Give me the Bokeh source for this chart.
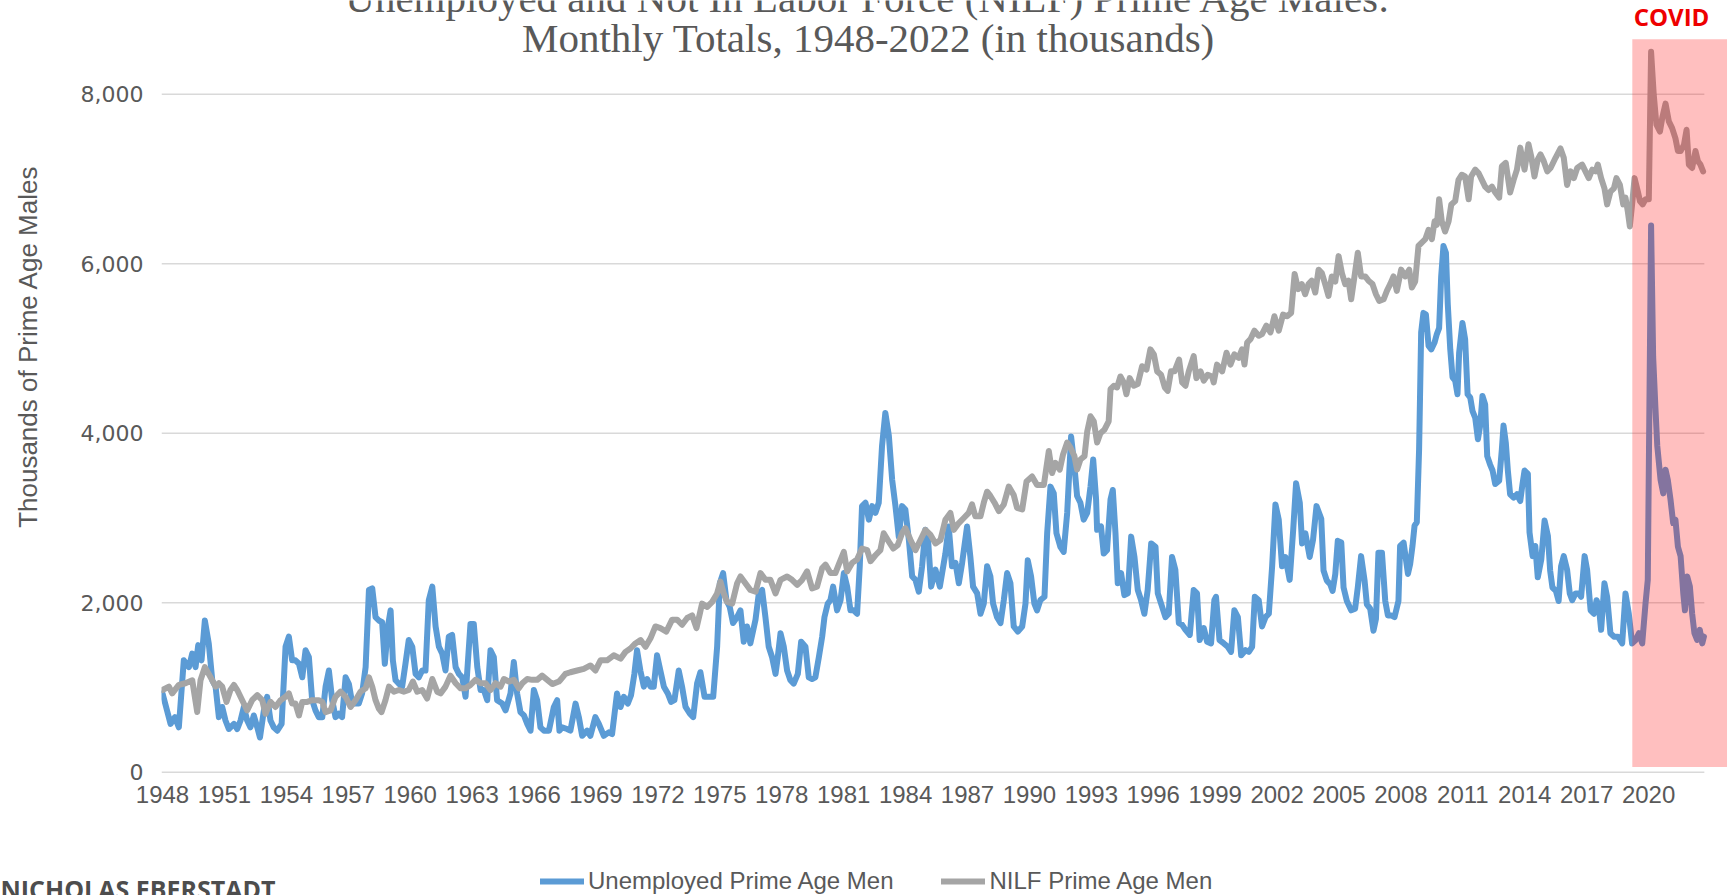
import math
from bokeh.plotting import figure
from bokeh.layouts import column, row
from bokeh.models import (Range1d, FixedTicker, NumeralTickFormatter, Label,
                          Legend, LegendItem)
from bokeh.embed import file_html
from bokeh.resources import INLINE

# ---------------- data (thousands) ----------------
unemp_year = [
    1948.00, 1948.39, 1948.60, 1948.79, 1949.03, 1949.28, 1949.44, 1949.60, 1949.73, 1949.89,
    1950.05, 1950.24, 1950.41, 1950.57, 1950.73, 1950.89, 1951.05, 1951.21, 1951.46, 1951.62,
    1951.78, 1951.94, 1952.10, 1952.26, 1952.42, 1952.59, 1952.72, 1952.91, 1953.07, 1953.23,
    1953.39, 1953.56, 1953.77, 1953.96, 1954.12, 1954.28, 1954.44, 1954.61, 1954.77, 1954.93,
    1955.09, 1955.25, 1955.41, 1955.57, 1955.74, 1955.90, 1956.06, 1956.22, 1956.38, 1956.54,
    1956.70, 1956.87, 1957.03, 1957.19, 1957.35, 1957.51, 1957.67, 1957.84, 1958.00, 1958.16,
    1958.32, 1958.48, 1958.64, 1958.77, 1958.92, 1959.05, 1959.16, 1959.29, 1959.45, 1959.61,
    1959.77, 1959.93, 1960.10, 1960.26, 1960.42, 1960.58, 1960.74, 1960.90, 1961.07, 1961.23,
    1961.39, 1961.55, 1961.71, 1961.87, 1962.03, 1962.20, 1962.36, 1962.52, 1962.68, 1962.92,
    1963.08, 1963.25, 1963.41, 1963.57, 1963.73, 1963.89, 1964.05, 1964.21, 1964.46, 1964.62,
    1964.86, 1965.02, 1965.18, 1965.34, 1965.51, 1965.67, 1965.83, 1965.99, 1966.15, 1966.31,
    1966.48, 1966.72, 1966.96, 1967.12, 1967.23,
    1967.36, 1967.60, 1967.76, 1968.01, 1968.17, 1968.33, 1968.57, 1968.73, 1968.97, 1969.14,
    1969.38, 1969.62, 1969.78, 1969.90, 1970.02, 1970.19, 1970.35, 1970.54, 1970.70, 1970.86,
    1970.99, 1971.15, 1971.32, 1971.48, 1971.64, 1971.80, 1971.96, 1972.12, 1972.29, 1972.48,
    1972.64, 1972.80, 1973.01, 1973.17, 1973.34, 1973.55, 1973.71, 1973.90, 1974.06, 1974.26,
    1974.47, 1974.68, 1974.87, 1975.00, 1975.16, 1975.32, 1975.48, 1975.64, 1975.84, 1976.00,
    1976.16, 1976.32, 1976.48, 1976.73, 1976.89, 1977.05, 1977.21, 1977.37, 1977.53, 1977.70,
    1977.81, 1977.94, 1978.10, 1978.26, 1978.42, 1978.58, 1978.78, 1978.94, 1979.15, 1979.31,
    1979.47, 1979.63, 1979.80, 1979.96, 1980.07, 1980.23, 1980.36, 1980.49, 1980.68, 1980.85,
    1981.01, 1981.17, 1981.33, 1981.49, 1981.65, 1981.78, 1981.89, 1982.06, 1982.22, 1982.38,
    1982.54, 1982.70, 1982.86, 1983.02, 1983.19, 1983.35, 1983.51, 1983.67, 1983.83, 1983.99,
    1984.16, 1984.32, 1984.48, 1984.64, 1984.80, 1984.96, 1985.08, 1985.24, 1985.45, 1985.66,
    1985.93, 1986.09, 1986.25, 1986.42, 1986.58, 1986.74, 1986.98, 1987.14, 1987.27, 1987.47,
    1987.63, 1987.79, 1987.95, 1988.11, 1988.24, 1988.43, 1988.60, 1988.76, 1988.92, 1989.08,
    1989.24, 1989.44, 1989.65, 1989.81, 1989.92, 1990.08, 1990.24, 1990.37, 1990.53, 1990.73,
    1990.86, 1991.02, 1991.18, 1991.31, 1991.50, 1991.66, 1991.83, 1992.02, 1992.18, 1992.31,
    1992.47, 1992.63, 1992.80, 1992.96, 1993.09, 1993.23, 1993.28, 1993.47, 1993.60, 1993.76,
    1993.93, 1994.04, 1994.17, 1994.28, 1994.44, 1994.60, 1994.77, 1994.93, 1995.09, 1995.25,
    1995.41, 1995.57, 1995.73, 1995.90, 1996.11, 1996.22, 1996.38, 1996.59, 1996.75, 1996.91,
    1997.07, 1997.24, 1997.40, 1997.56, 1997.77, 1997.96, 1998.12, 1998.25, 1998.45, 1998.61,
    1998.80, 1998.96, 1999.04, 1999.21, 1999.42, 1999.61, 1999.77, 1999.93, 2000.10, 2000.26,
    2000.47, 2000.63, 2000.79, 2000.92, 2001.11, 2001.27, 2001.44, 2001.60, 2001.76, 2001.92,
    2002.08, 2002.24, 2002.40, 2002.61, 2002.78, 2002.92, 2003.10, 2003.21, 2003.37, 2003.58,
    2003.74, 2003.91,
    2004.14, 2004.25, 2004.41, 2004.57, 2004.69, 2004.82, 2004.94, 2005.11, 2005.22, 2005.38,
    2005.59, 2005.78, 2005.91, 2006.07, 2006.24, 2006.35, 2006.51, 2006.67, 2006.79, 2006.91,
    2007.08, 2007.24, 2007.37, 2007.53, 2007.69, 2007.88, 2007.96, 2008.13, 2008.34, 2008.45,
    2008.56, 2008.66, 2008.77, 2008.88, 2008.98, 2009.09, 2009.21, 2009.34, 2009.47, 2009.63,
    2009.74, 2009.85, 2009.95, 2010.06, 2010.18, 2010.27, 2010.39, 2010.50, 2010.63, 2010.74,
    2010.82, 2010.98, 2011.11, 2011.23, 2011.36, 2011.47, 2011.60, 2011.73, 2011.84, 2011.95,
    2012.08, 2012.18, 2012.32, 2012.44, 2012.57, 2012.76, 2012.89, 2012.97, 2013.08, 2013.18,
    2013.29, 2013.46, 2013.62, 2013.78, 2013.89, 2013.99, 2014.15, 2014.23, 2014.38, 2014.51,
    2014.63, 2014.80, 2014.96, 2015.12, 2015.23, 2015.34, 2015.51, 2015.64,
    2015.76, 2015.89, 2016.05, 2016.18, 2016.30, 2016.46, 2016.62, 2016.73, 2016.90, 2017.02,
    2017.19, 2017.35, 2017.48, 2017.59, 2017.70, 2017.86, 2017.99, 2018.15, 2018.32, 2018.51,
    2018.72, 2018.88, 2019.04, 2019.20, 2019.37, 2019.53, 2019.69, 2019.85, 2019.96, 2020.12,
    2020.22, 2020.33, 2020.42, 2020.58, 2020.71, 2020.82, 2020.93, 2021.06, 2021.19, 2021.30,
    2021.42, 2021.55, 2021.68, 2021.76, 2021.87, 2022.00, 2022.11, 2022.22, 2022.35, 2022.48,
    2022.60, 2022.68,
]
unemp_value = [
    930, 570, 650, 530, 1320, 1240, 1400, 1240, 1500, 1320,
    1790, 1520, 1085, 1010, 650, 770, 610, 510, 570, 510,
    610, 770, 610, 530, 670, 530, 410, 730, 890, 610,
    530, 490, 570, 1480, 1600, 1320, 1320, 1280, 1120, 1440,
    1360, 850, 730, 650, 650, 1010, 1200, 850, 650, 690,
    650, 1120, 1040, 810, 810, 810, 930, 1240, 2150, 2170,
    1830, 1790, 1770, 1280, 1720, 1910, 1320, 1085, 1045, 1010,
    1280, 1560, 1480, 1160, 1120, 1200, 1200, 2030, 2190, 1720,
    1480, 1400, 1200, 1600, 1620, 1240, 1160, 1120, 890, 1750,
    1750, 1240, 970, 970, 850, 1440, 1360, 850, 810, 730,
    930, 1300, 930, 710, 670, 570, 490, 970, 850, 530,
    490, 490, 770, 850, 490,
    530, 510, 490, 810, 650, 430, 490, 430, 650, 570,
    430, 470, 450, 690, 930, 770, 890, 810, 910, 1160,
    1440, 1200, 1010, 1100, 1010, 1010, 1380, 1200, 1010, 930,
    830, 850, 1200, 1010, 770, 690, 650, 1050, 1180, 890,
    890, 890, 1480, 2230, 2350, 2030, 1950, 1760, 1830, 1910,
    1540, 1720, 1520, 1800, 2110, 2150, 1830, 1480, 1360, 1160,
    1360, 1640, 1480, 1200, 1085, 1045, 1160, 1540, 1480, 1120,
    1100, 1120, 1360, 1600, 1830, 1990, 2030, 2190, 1910, 2030,
    2350, 2190, 1910, 1910, 1870, 2430, 3140, 3180, 2980, 3140,
    3060, 3180, 3850, 4240, 3970, 3450, 3140, 2780, 3140, 3100,
    2740, 2310, 2270, 2130, 2430, 2860, 2780, 2190, 2390, 2190,
    2580, 2900, 2430, 2470, 2230, 2470, 2900, 2540, 2190, 2110,
    1870, 1990, 2430, 2310, 1990, 1830, 1760, 2030, 2350, 2230,
    1720, 1660, 1720, 1990, 2500, 2310, 1990, 1910, 2030, 2070,
    2820, 3370, 3290, 2820, 2660, 2600, 3060, 3960, 3610, 3260,
    3180, 2980, 3060, 3370, 3690, 3220, 2860, 2900, 2580, 2620,
    3220, 3330, 2820, 2230, 2350, 2090, 2110, 2780, 2540, 2150,
    2030, 1870, 2150, 2700, 2660, 2110, 1990, 1830, 1870, 2540,
    2390, 1760, 1740, 1680, 1620, 2150, 2110, 1560, 1700, 1540,
    1520, 2030, 2070, 1560, 1520, 1480, 1420, 1910, 1830, 1380,
    1440, 1420, 1480, 2070, 2030, 1720, 1830, 1870, 2430, 3160,
    2980, 2430, 2540, 2270, 2860, 3410, 3180, 2700, 2820, 2540,
    2740, 3140,
    2990, 2380, 2260, 2220, 2140, 2340, 2730, 2710, 2180, 2020,
    1910, 1930, 2180, 2550, 2260, 1980, 1930, 1670, 1810, 2590,
    2590, 2020, 1850, 1850, 1830, 2020, 2670, 2710, 2340, 2460,
    2670, 2910, 2950, 3810, 5190, 5420, 5400, 5030, 4990, 5070,
    5170, 5240, 5850, 6210, 6130, 5520, 4990, 4660, 4620, 4460,
    4950, 5300, 5110, 4460, 4420, 4260, 4180, 3930, 4090, 4440,
    4340, 3730, 3630, 3560, 3400, 3440, 3810, 4090, 3890, 3560,
    3280, 3240, 3280, 3200, 3400, 3560, 3520, 2830, 2550, 2670,
    2300, 2510, 2970, 2790, 2380, 2180, 2140, 2020,
    2430, 2550, 2390, 2110, 2030, 2110, 2110, 2070, 2550, 2390,
    1910, 1870, 2030, 1950, 1680, 2230, 2070, 1640, 1600, 1600,
    1520, 2110, 1870, 1520, 1560, 1640, 1520, 1990, 2270, 6450,
    4900, 4300, 3850, 3450, 3290, 3570, 3450, 3220, 2940, 2980,
    2660, 2550, 2110, 1910, 2310, 2190, 1870, 1640, 1560, 1680,
    1520, 1600,
]

nilf_year = [
    1948.00, 1948.31, 1948.47, 1948.79, 1949.11, 1949.44, 1949.68, 1949.84, 1950.05, 1950.24,
    1950.41, 1950.57, 1950.73, 1950.89, 1951.10, 1951.29, 1951.46, 1951.62, 1951.86, 1952.10,
    1952.34, 1952.59, 1952.83, 1952.99, 1953.23, 1953.47, 1953.72, 1953.96, 1954.12, 1954.28,
    1954.44, 1954.61, 1954.77, 1955.01, 1955.25, 1955.57, 1955.74, 1955.90, 1956.14, 1956.38,
    1956.62, 1956.87, 1957.11, 1957.35, 1957.59, 1957.84, 1958.00, 1958.16, 1958.32, 1958.48,
    1958.61, 1958.80, 1958.97, 1959.21, 1959.45, 1959.69, 1959.93, 1960.13, 1960.34, 1960.58,
    1960.82, 1961.07, 1961.31, 1961.47, 1961.71, 1961.95, 1962.20, 1962.44, 1962.68, 1962.92,
    1963.16, 1963.41, 1963.65, 1963.89, 1964.13, 1964.38, 1964.54, 1964.78, 1965.02, 1965.26,
    1965.43, 1965.67, 1965.91, 1966.15, 1966.39, 1966.64, 1966.88, 1967.20,
    1967.28, 1967.52, 1967.76, 1968.09, 1968.41, 1968.73, 1968.97, 1969.22, 1969.54, 1969.86,
    1970.19, 1970.43, 1970.67, 1970.91, 1971.16, 1971.40, 1971.64, 1971.88, 1972.12, 1972.41,
    1972.69, 1972.93, 1973.17, 1973.42, 1973.66, 1973.87, 1974.03, 1974.14, 1974.39, 1974.63,
    1974.87, 1975.03, 1975.19, 1975.35, 1975.60, 1975.84, 1976.00, 1976.24, 1976.48, 1976.73,
    1976.97, 1977.21, 1977.45, 1977.70, 1977.94, 1978.26, 1978.50, 1978.75, 1978.99, 1979.23,
    1979.47, 1979.71, 1979.96, 1980.12, 1980.36, 1980.60, 1980.76, 1981.01, 1981.17, 1981.41,
    1981.65, 1981.89, 1982.14, 1982.30, 1982.54, 1982.78, 1982.94, 1983.19, 1983.40, 1983.62,
    1983.83, 1983.99, 1984.24, 1984.48, 1984.72, 1984.96, 1985.21, 1985.45, 1985.69,
    1985.77, 1985.93, 1986.17, 1986.34, 1986.58, 1986.82, 1987.06, 1987.22, 1987.38, 1987.63,
    1987.79, 1987.95, 1988.11, 1988.31, 1988.52, 1988.76, 1989.00, 1989.24, 1989.40, 1989.65,
    1989.86, 1990.13, 1990.37, 1990.70, 1990.94, 1991.10, 1991.26, 1991.47, 1991.63, 1991.83,
    1991.99, 1992.18, 1992.31, 1992.47, 1992.67, 1992.80, 1992.96, 1993.12, 1993.28, 1993.44,
    1993.63, 1993.84, 1993.93, 1994.09, 1994.25, 1994.41, 1994.57, 1994.70, 1994.86, 1995.06,
    1995.25, 1995.46, 1995.67, 1995.86, 1996.03, 1996.19, 1996.38, 1996.56, 1996.70, 1996.86,
    1997.03, 1997.25, 1997.40, 1997.56, 1997.72, 1997.96, 1998.09, 1998.29, 1998.45, 1998.64,
    1998.85, 1998.93, 1999.09, 1999.34, 1999.55, 1999.74, 1999.93, 2000.14, 2000.30, 2000.42,
    2000.55, 2000.71, 2000.90, 2001.11, 2001.27, 2001.48, 2001.68, 2001.87, 2002.08, 2002.29,
    2002.49, 2002.68, 2002.85, 2003.02,
    2003.20, 2003.36, 2003.52, 2003.68, 2003.85, 2004.01, 2004.17, 2004.33, 2004.49, 2004.65,
    2004.82, 2004.98, 2005.14, 2005.30, 2005.46, 2005.59, 2005.75, 2005.91, 2006.07, 2006.27,
    2006.43, 2006.62, 2006.79, 2006.95, 2007.16, 2007.32, 2007.48, 2007.64, 2007.80, 2008.01,
    2008.21, 2008.40, 2008.53, 2008.69, 2008.85, 2009.01, 2009.18, 2009.34, 2009.50, 2009.63,
    2009.74, 2009.85, 2009.98, 2010.14, 2010.31, 2010.44, 2010.63, 2010.79, 2010.95, 2011.11,
    2011.28, 2011.40, 2011.60, 2011.76, 2011.92, 2012.08, 2012.24, 2012.41, 2012.57, 2012.76,
    2012.89, 2013.08, 2013.29, 2013.46, 2013.62, 2013.78, 2013.99, 2014.18, 2014.31, 2014.47,
    2014.63,
    2014.76, 2014.92, 2015.09, 2015.25, 2015.49, 2015.73, 2015.89, 2016.05, 2016.22, 2016.38,
    2016.54, 2016.78, 2016.94, 2017.10, 2017.27, 2017.43, 2017.54, 2017.70, 2017.86, 2017.99,
    2018.15, 2018.32, 2018.44, 2018.61, 2018.77, 2018.88, 2018.99, 2019.09, 2019.20, 2019.32,
    2019.48, 2019.58, 2019.71, 2019.85, 2020.01, 2020.12, 2020.25, 2020.38, 2020.55, 2020.66,
    2020.82, 2020.98, 2021.14, 2021.30, 2021.42, 2021.55, 2021.71, 2021.84, 2021.95, 2022.11,
    2022.27, 2022.39, 2022.51, 2022.64,
]
nilf_value = [
    970, 1010, 930, 1030, 1050, 1085, 710, 1085, 1240, 1160,
    1085, 1010, 1050, 1010, 830, 970, 1030, 970, 850, 730,
    850, 910, 850, 690, 830, 770, 850, 890, 930, 810,
    810, 670, 830, 830, 850, 850, 830, 710, 730, 890,
    950, 890, 770, 850, 950, 990, 1120, 1010, 850, 750,
    710, 850, 1010, 950, 970, 950, 970, 1070, 950, 970,
    870, 1100, 950, 930, 1010, 1140, 1050, 990, 990, 1030,
    1090, 1050, 1050, 970, 1050, 1010, 1100, 1070, 1090, 990,
    1050, 1100, 1090, 1090, 1140, 1090, 1040, 1070,
    1090, 1160, 1180, 1200, 1220, 1260, 1200, 1320, 1320, 1380,
    1340, 1420, 1460, 1520, 1560, 1480, 1580, 1720, 1700, 1660,
    1800, 1800, 1740, 1820, 1850, 1700, 1870, 1990, 1950, 2010,
    2110, 2250, 2110, 2010, 1990, 2230, 2310, 2230, 2150, 2130,
    2350, 2270, 2270, 2110, 2270, 2310, 2270, 2210, 2270, 2370,
    2170, 2190, 2410, 2450, 2350, 2350, 2450, 2600, 2370, 2470,
    2510, 2640, 2620, 2490, 2560, 2620, 2820, 2720, 2640, 2680,
    2820, 2880, 2740, 2620, 2740, 2860, 2800, 2700, 2740,
    2820, 2980, 3060, 2860, 2940, 3000, 3060, 3160, 3020, 3020,
    3180, 3310, 3260, 3180, 3080, 3160, 3370, 3270, 3120, 3100,
    3430, 3490, 3390, 3390, 3790, 3530, 3650, 3570, 3750, 3890,
    3830, 3730, 3570, 3690, 3730, 4020, 4200, 4140, 3890, 4000,
    4040, 4140, 4520, 4560, 4540, 4670, 4600, 4460, 4650, 4560,
    4580, 4790, 4750, 4990, 4930, 4730, 4690, 4540, 4500, 4730,
    4730, 4870, 4600, 4560, 4730, 4910, 4650, 4730, 4620, 4690,
    4670, 4600, 4810, 4730, 4950, 4810, 4930, 4890, 4990, 4810,
    5070, 5110, 5210, 5150, 5170, 5270, 5190, 5380, 5210, 5400,
    5380, 5420, 5880, 5700,
    5760, 5640, 5760, 5800, 5660, 5930, 5890, 5760, 5620, 5850,
    5790, 6090, 5890, 5760, 5800, 5580, 5850, 6130, 5850, 5850,
    5800, 5760, 5640, 5560, 5580, 5680, 5760, 5850, 5680, 5930,
    5850, 5930, 5720, 5790, 6210, 6250, 6290, 6400, 6290, 6500,
    6460, 6760, 6500, 6380, 6500, 6700, 6740, 6990, 7050, 7030,
    6760, 7030, 7110, 7070, 6990, 6910, 6870, 6910, 6840, 6780,
    7150, 7190, 6840, 6990, 7110, 7370, 7110, 7410, 7270, 7030,
    7230,
    7290, 7210, 7090, 7130, 7250, 7360, 7250, 6930, 7090, 7010,
    7130, 7170, 7090, 7010, 7110, 7090, 7170, 7010, 6890, 6700,
    6850, 6890, 7010, 6930, 6700, 6780, 6620, 6440, 6700, 7010,
    6850, 6740, 6700, 6760, 6760, 8500, 7990, 7640, 7560, 7720,
    7890, 7680, 7600, 7480, 7330, 7330, 7400, 7580, 7170, 7130,
    7330, 7210, 7170, 7090,
]

x_tick_years = [1948, 1951, 1954, 1957, 1960, 1963, 1966, 1969, 1972, 1975, 1978, 1981,
                1984, 1987, 1990, 1993, 1996, 1999, 2002, 2005, 2008, 2011, 2014, 2017, 2020]
y_tick_values = [0, 2000, 4000, 6000, 8000]

covid_start, covid_end = 2019.21, 2023.8
covid_low, covid_high = 63, 8650

title_lines = ["Unemployed and Not In Labor Force (NILF) Prime Age Males:",
               "Monthly Totals, 1948-2022 (in thousands)"]
series_names = ["Unemployed Prime Age Men", "NILF Prime Age Men"]
y_title = "Thousands of Prime Age Males"
credit = "NICHOLAS EBERSTADT"

BLUE, GREY, TXT, GRID = "#5B9BD5", "#A5A5A5", "#595959", "#D9D9D9"
LW = 6

# ---------------- geometry ----------------
TOTAL_W, TOTAL_H = 1729, 895
LEFT_W = 60            # strip holding the y-axis title
MAIN_H = 818           # plot + x tick labels
FRAME_B = 778          # frame bottom (canvas y)
FRAME_L = 161          # frame left (canvas x)
FRAME_R = 1727         # frame right (canvas x)
BOTTOM_H = TOTAL_H - MAIN_H
X0 = 1947.95
X1 = X0 + (FRAME_R - FRAME_L) / 20.64


def bare(width, height):
    f = figure(width=width, height=height, output_backend="svg", toolbar_location=None,
               x_axis_location=None, y_axis_location=None, title=None,
               x_range=Range1d(0, width), y_range=Range1d(0, height),
               min_border=0, min_border_left=0, min_border_right=0,
               min_border_top=0, min_border_bottom=0)
    f.outline_line_color = None
    f.xgrid.visible = False
    f.ygrid.visible = False
    f.background_fill_color = "white"
    f.border_fill_color = "white"
    return f


# ---------------- main plot ----------------
p = figure(width=TOTAL_W - LEFT_W, height=MAIN_H, output_backend="svg",
           toolbar_location=None,
           x_range=Range1d(X0, X1), y_range=Range1d(-74, 9106),
           min_border_left=FRAME_L - LEFT_W, min_border_right=TOTAL_W - FRAME_R,
           min_border_top=0, min_border_bottom=MAIN_H - FRAME_B, title=None)
p.outline_line_color = None
p.background_fill_color = "white"
p.border_fill_color = "white"

# horizontal gridlines, spanning the data period only (as in the reference)
data_end = max(unemp_year[-1], nilf_year[-1]) + 0.02
p.segment(x0=[X0] * len(y_tick_values), x1=[data_end] * len(y_tick_values),
          y0=y_tick_values, y1=y_tick_values, line_color=GRID, line_width=1.5)

r_unemp = p.line(unemp_year, unemp_value, line_color=BLUE, line_width=LW,
                 line_cap="round", line_join="round")
r_nilf = p.line(nilf_year, nilf_value, line_color=GREY, line_width=LW,
                line_cap="round", line_join="round")

# COVID shading (translucent red, over the lines)
p.quad(left=[covid_start], right=[covid_end], bottom=[covid_low], top=[covid_high],
       fill_color="#FF0000", fill_alpha=0.25, line_color=None)

xt = FixedTicker(ticks=x_tick_years)
yt = FixedTicker(ticks=y_tick_values)
p.xaxis.ticker = xt
p.yaxis.ticker = yt
p.yaxis.formatter = NumeralTickFormatter(format="0,0")
for ax in (p.xaxis, p.yaxis):
    ax.axis_line_color = None
    ax.major_tick_line_color = None
    ax.minor_tick_line_color = None
    ax.major_tick_out = 0
    ax.major_tick_in = 0
    ax.minor_tick_out = 0
    ax.minor_tick_in = 0
    ax.major_label_text_color = TXT
p.xaxis.major_label_text_font = "Liberation Sans"
p.xaxis.major_label_text_font_size = "24px"
p.xaxis.major_label_standoff = 7
p.yaxis.major_label_text_font = "DejaVu Sans"
p.yaxis.major_label_text_font_size = "22px"
p.yaxis.major_label_standoff = 18
p.xgrid.visible = False
p.ygrid.visible = False

FH = FRAME_B  # frame height (frame top is the canvas top)
# title: the first line is cut by the top edge, as in the reference
p.add_layout(Label(x=868 - FRAME_L, y=FH + 3, x_units="screen", y_units="screen",
                   text=title_lines[0], text_align="center", text_baseline="alphabetic",
                   text_font="Liberation Serif", text_font_size="41px", text_color=TXT))
p.add_layout(Label(x=868 - FRAME_L, y=FH - 37, x_units="screen", y_units="screen",
                   text=title_lines[1], text_align="center", text_baseline="alphabetic",
                   text_font="Liberation Serif", text_font_size="41px", text_color=TXT))
# COVID tag
p.add_layout(Label(x=1671 - FRAME_L, y=FH - 15.5, x_units="screen", y_units="screen",
                   text="COVID", text_align="center", text_baseline="middle",
                   text_font="Open Sans", text_font_style="bold", text_font_size="24px",
                   text_color="#EE0000"))

# ---------------- left strip: y-axis title ----------------
left = bare(LEFT_W, MAIN_H)
left.add_layout(Label(x=27.5, y=MAIN_H - 346 - 40, x_units="screen", y_units="screen",
                      text=y_title, angle=math.pi / 2, text_align="center",
                      text_baseline="middle", text_font="Liberation Sans",
                      text_font_size="26px", text_color=TXT))

# ---------------- bottom strip: legend + credit ----------------
bottom = bare(TOTAL_W, BOTTOM_H)
nan = float("nan")
lg_unemp = bottom.line(x=[nan], y=[nan], line_color=BLUE, line_width=LW, line_cap="round")
lg_nilf = bottom.line(x=[nan], y=[nan], line_color=GREY, line_width=LW, line_cap="round")
legend = Legend(items=[LegendItem(label=series_names[0], renderers=[lg_unemp]),
                       LegendItem(label=series_names[1], renderers=[lg_nilf])],
                location=(540, 0), orientation="horizontal",
                glyph_width=44, glyph_height=24, label_standoff=4, spacing=48,
                padding=0, margin=0, border_line_color=None, background_fill_alpha=0,
                label_text_font="Liberation Sans", label_text_font_size="24px",
                label_text_color=TXT, label_height=24)
bottom.add_layout(legend, "center")
bottom.add_layout(Label(x=0, y=7, x_units="screen", y_units="screen",
                        text=credit, text_align="left", text_baseline="alphabetic",
                        text_font="Open Sans", text_font_style="bold",
                        text_font_size="25px", text_color="#4D4D4D"))

layout = column(row(left, p), bottom)
html = file_html(layout, INLINE)
open("out.html", "w").write(html)
